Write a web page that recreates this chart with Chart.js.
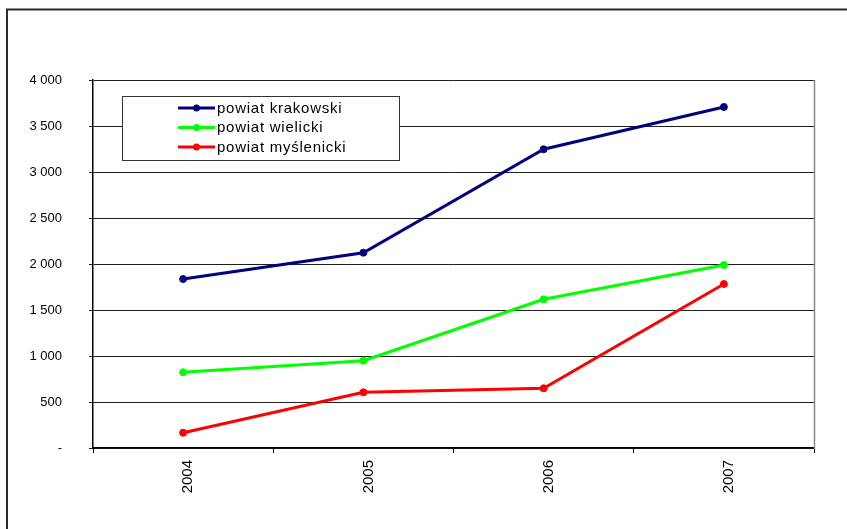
<!DOCTYPE html>
<html>
<head>
<meta charset="utf-8">
<script src="https://cdn.jsdelivr.net/npm/chart.js@4/dist/chart.umd.min.js"></script>
<style>
  html, body { margin: 0; padding: 0; background: #fff; }
  canvas { display: block; }
</style>
</head>
<body>
<canvas id="c" width="847" height="529"></canvas>
<script>
// Years on the category axis
const years = ['2004', '2005', '2006', '2007'];

// Series values per county
const krakowski = [1837, 2123, 3247, 3707];
const wielicki = [823, 949, 1616, 1989];
const myslenicki = [166, 605, 649, 1783];

const seriesNames = ['powiat krakowski', 'powiat wielicki', 'powiat myślenicki'];
const seriesColors = ['#000080', '#00ff00', '#ff0000'];

// Value axis ticks and their printed labels
const yTickValues = [0, 500, 1000, 1500, 2000, 2500, 3000, 3500, 4000];
const yTickLabels = ['-', '500', '1 000', '1 500', '2 000', '2 500', '3 000', '3 500', '4 000'];

const FONT = '"Liberation Sans", Arial, sans-serif';

// Outer frame of the chart object and right edge of the plot area
const framePlugin = {
  id: 'frame',
  beforeDraw(chart) {
    const ctx = chart.ctx;
    ctx.save();
    ctx.fillStyle = '#fff';
    ctx.fillRect(0, 0, chart.width, chart.height);
    ctx.strokeStyle = '#2a2a2a';
    ctx.lineWidth = 2;
    ctx.beginPath();
    ctx.moveTo(7, chart.height);
    ctx.lineTo(7, 9.5);
    ctx.lineTo(chart.width, 9.5);
    ctx.stroke();
    ctx.restore();
  },
  afterDraw(chart) {
    const a = chart.chartArea;
    const ctx = chart.ctx;
    ctx.save();
    ctx.strokeStyle = '#8a8a8a';
    ctx.lineWidth = 1.5;
    ctx.beginPath();
    ctx.moveTo(a.right + 0.5, a.top);
    ctx.lineTo(a.right + 0.5, a.bottom + 1);
    ctx.stroke();
    ctx.restore();
  }
};

// Boxed legend placed inside the plot area
const boxLegendPlugin = {
  id: 'boxLegend',
  afterDatasetsDraw(chart) {
    const ctx = chart.ctx;
    const box = { x: 122.5, y: 96.5, w: 277, h: 64 };
    ctx.save();
    ctx.fillStyle = '#fff';
    ctx.fillRect(box.x, box.y, box.w, box.h);
    ctx.strokeStyle = '#333';
    ctx.lineWidth = 1;
    ctx.strokeRect(box.x, box.y, box.w, box.h);
    const rows = [108, 127.5, 147];
    chart.data.datasets.forEach((ds, i) => {
      const y = rows[i];
      ctx.strokeStyle = ds.borderColor;
      ctx.lineWidth = 3;
      ctx.beginPath();
      ctx.moveTo(178, y);
      ctx.lineTo(215, y);
      ctx.stroke();
      ctx.fillStyle = ds.borderColor;
      ctx.beginPath();
      ctx.arc(196.5, y, 3.5, 0, Math.PI * 2);
      ctx.fill();
      ctx.fillStyle = '#000';
      ctx.font = '15px ' + FONT;
      ctx.letterSpacing = '0.75px';
      ctx.textBaseline = 'middle';
      ctx.textAlign = 'left';
      ctx.fillText(ds.label, 217, y + 0.5);
    });
    ctx.restore();
  }
};

const seriesData = [krakowski, wielicki, myslenicki];

new Chart(document.getElementById('c'), {
  type: 'line',
  data: {
    labels: years,
    datasets: seriesData.map((vals, i) => ({
      label: seriesNames[i],
      data: vals,
      borderColor: seriesColors[i],
      backgroundColor: seriesColors[i],
      pointBackgroundColor: seriesColors[i],
      pointBorderColor: seriesColors[i],
      borderWidth: 3,
      pointRadius: 3.5,
      pointBorderWidth: 1,
      tension: 0,
      fill: false
    }))
  },
  options: {
    responsive: false,
    devicePixelRatio: 1,
    animation: false,
    layout: { padding: { left: 0, top: 80, right: 33, bottom: 0 } },
    plugins: {
      legend: { display: false },
      tooltip: { enabled: false },
      title: { display: false }
    },
    scales: {
      x: {
        type: 'category',
        offset: true,
        grid: {
          offset: true,
          drawOnChartArea: false,
          drawTicks: true,
          tickLength: 5,
          color: '#000',
          lineWidth: 1
        },
        border: { display: true, color: '#000', width: 1.5 },
        ticks: {
          color: '#000',
          font: { family: FONT, size: 15 },
          minRotation: 90,
          maxRotation: 90,
          padding: 7,
          labelOffset: 5,
          autoSkip: false
        },
        afterFit(scale) { scale.height = 81; }
      },
      y: {
        min: 0,
        max: 4000,
        afterBuildTicks(scale) {
          scale.ticks = yTickValues.map(v => ({ value: v }));
        },
        grid: {
          color: '#1e1e1e',
          lineWidth: 1,
          drawTicks: true,
          tickLength: 4
        },
        border: { display: true, color: '#000', width: 1.5 },
        ticks: {
          color: '#000',
          font: { family: FONT, size: 13 },
          padding: 27,
          callback(value) {
            const i = yTickValues.indexOf(value);
            return i >= 0 ? yTickLabels[i] : '';
          }
        },
        afterFit(scale) { scale.width = 93; }
      }
    }
  },
  plugins: [framePlugin, boxLegendPlugin]
});
</script>
</body>
</html>
